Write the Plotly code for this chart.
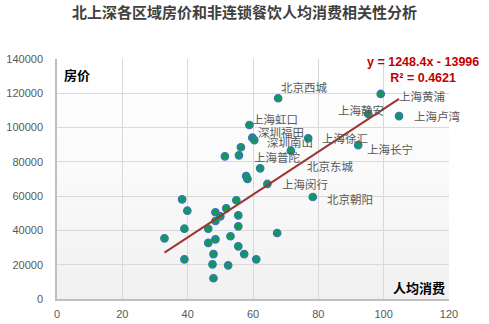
import plotly.graph_objects as go

# District names (blank = unlabelled point), per-capita spend and housing price
names = [
    "", "", "", "", "", "", "", "", "", "",
    "", "", "", "", "", "", "", "", "", "",
    "", "", "", "", "",
    "上海闵行", "北京朝阳", "",
    "北京西城", "上海虹口", "深圳福田", "深圳南山", "上海徐汇", "上海普陀",
    "", "", "", "北京东城",
    "上海黄浦", "上海静安", "上海卢湾", "上海长宁",
]
spend = [
    38.3, 39.9, 39.0, 32.9, 39.0, 48.5, 48.5, 50.0, 51.8, 54.9,
    55.5, 55.5, 46.3, 46.3, 48.5, 53.1, 55.5, 57.3, 47.9, 47.6,
    52.4, 61.0, 47.9, 57.9, 58.3,
    64.4, 78.3, 67.4,
    67.7, 58.9, 59.8, 60.4, 76.9, 56.3,
    55.7, 51.4, 62.2, 71.6,
    99.1, 95.3, 104.7, 92.2,
]
price = [
    58150, 51500, 41000, 35400, 23150, 50600, 45500, 48200, 52900, 57600,
    48800, 42400, 41000, 32700, 34800, 36600, 30700, 26200, 26200, 20200,
    19650, 23150, 12100, 71700, 70000,
    67100, 59500, 38500,
    117100, 101500, 94100, 92700, 93700, 88500,
    83800, 83200, 76200, 86500,
    119600, 107900, 106700, 89800,
]

# Linear trend fitted to the data
slope = 1248.4
intercept = -13996
r_squared = 0.4621

x_ticks = [0, 20, 40, 60, 80, 100, 120]
y_ticks = [0, 20000, 40000, 60000, 80000, 100000, 120000, 140000]

# Pixel offsets of each data label from its point (x right, y up)
label_shift = {
    "北京西城": (1, 11), "上海虹口": (1, 6), "深圳福田": (4, 6),
    "深圳南山": (11, -2), "上海徐汇": (12, 0), "上海普陀": (11, -10),
    "北京东城": (14, -15), "上海闵行": (13, 0), "北京朝阳": (12, -2),
    "上海长宁": (7, -4), "上海静安": (-32, 4), "上海黄浦": (16, -2),
    "上海卢湾": (13, 0),
}

CJK = "Noto Sans CJK SC"
TICK_FONT = dict(family="Liberation Sans, Arial", size=11, color="#595959")

fig = go.Figure()

# Soft vertical gradient in the plotting area
bands = 24
for i in range(bands):
    t = i / (bands - 1)
    shade = int(255 - 14 * t ** 1.4)
    fig.add_shape(
        type="rect", xref="x domain", yref="y domain",
        x0=0, x1=1, y0=1 - (i + 1) / bands, y1=1 - i / bands,
        fillcolor=f"rgb({shade},{shade},{shade})", line_width=0, layer="below",
    )

fig.add_trace(go.Scatter(
    x=spend, y=price, mode="markers",
    marker=dict(size=7.5, color="#0f9b57", line=dict(color="#3f6fc2", width=1.2)),
    hoverinfo="skip", showlegend=False,
))

x_lo, x_hi = min(spend), max(spend)
fig.add_trace(go.Scatter(
    x=[x_lo, x_hi], y=[slope * x_lo + intercept, slope * x_hi + intercept],
    mode="lines", line=dict(color="#9e3434", width=2),
    hoverinfo="skip", showlegend=False,
))

for n, xv, yv in zip(names, spend, price):
    if not n:
        continue
    dx, dy = label_shift[n]
    fig.add_annotation(
        x=xv, y=yv, xref="x", yref="y", text=n, showarrow=False,
        xanchor="left", yanchor="middle", xshift=dx, yshift=dy,
        font=dict(family=CJK, size=11.5, color="#595959"),
    )

# Axis titles inside the plot area
fig.add_annotation(
    x=0, y=1, xref="x domain", yref="y domain", text="<b>房价</b>",
    showarrow=False, xanchor="left", yanchor="top", xshift=5, yshift=-4,
    font=dict(family=CJK, size=13, color="#000000"),
)
fig.add_annotation(
    x=1, y=0, xref="x domain", yref="y domain", text="<b>人均消费</b>",
    showarrow=False, xanchor="right", yanchor="bottom", xshift=-2, yshift=0,
    font=dict(family=CJK, size=13, color="#000000"),
)

# Trend equation and R²
fig.add_annotation(
    x=0.934, y=1.0, xref="paper", yref="paper",
    text=f"<b>y = {slope}x - {abs(intercept)}</b><br><b>R² = {r_squared}</b>",
    showarrow=False, xanchor="center", yanchor="top", yshift=6, align="center",
    font=dict(family="Liberation Sans, Arial", size=12.5, color="#c00000"),
)

fig.update_layout(
    width=489, height=324,
    margin=dict(l=57, r=40, t=59, b=25),
    paper_bgcolor="#ffffff", plot_bgcolor="#ffffff",
    title=dict(
        text="<b>北上深各区域房价和非连锁餐饮人均消费相关性分析</b>",
        x=0.5, xanchor="center", y=0.96, yanchor="middle",
        font=dict(family=CJK, size=15, color="#404040"),
    ),
    xaxis=dict(
        range=[0, 120], tickvals=x_ticks, ticktext=[str(v) for v in x_ticks],
        showgrid=True, gridcolor="#d9d9d9", gridwidth=1,
        showline=True, linecolor="#bfbfbf", linewidth=1.5,
        zeroline=False, ticks="", tickfont=TICK_FONT, fixedrange=True,
        ticklabelstandoff=4, automargin=False,
    ),
    yaxis=dict(
        range=[0, 140000], tickvals=y_ticks, ticktext=[str(v) for v in y_ticks],
        showgrid=True, gridcolor="#d9d9d9", gridwidth=1,
        showline=True, linecolor="#bfbfbf", linewidth=1.5,
        zeroline=False, ticks="", tickfont=TICK_FONT, fixedrange=True,
        ticklabelstandoff=10, automargin=False,
    ),
)

fig.write_html("out.html")
